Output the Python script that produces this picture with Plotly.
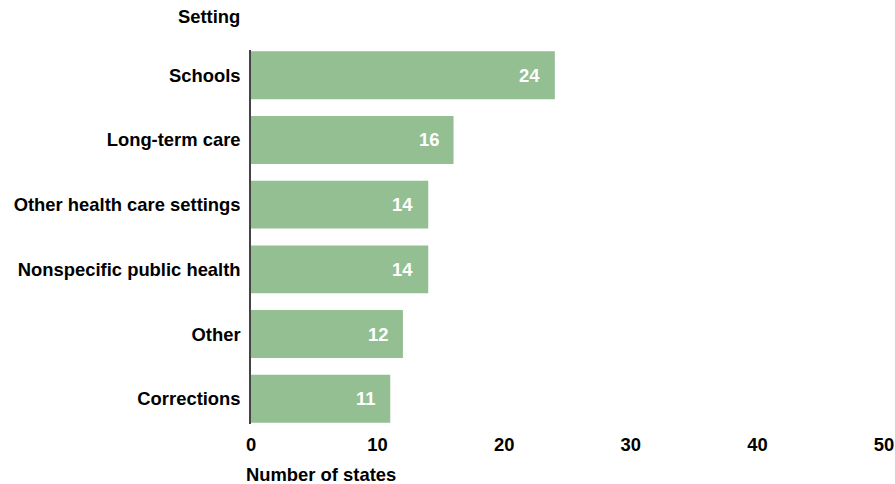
import plotly.graph_objects as go

categories = ["Corrections", "Other", "Nonspecific public health", "Other health care settings", "Long-term care", "Schools"]
values = [11, 12, 14, 14, 16, 24]
x_ticks = [0, 10, 20, 30, 40, 50]

BAR = "#93bf93"
FONT = "Liberation Sans, Arial, sans-serif"
FS = 18.4

fig = go.Figure(go.Bar(
    x=values, y=categories, orientation="h",
    marker=dict(color=BAR, line=dict(width=0)),
    width=0.74, hoverinfo="skip",
))

for v, c in zip(values, categories):
    fig.add_annotation(x=v, y=c, text=f"<b>{v}</b>", showarrow=False,
                       xanchor="right", xshift=-13,
                       font=dict(family=FONT, size=FS, color="white"))

fig.add_annotation(xref="paper", yref="paper", x=-0.014, y=1.0, yshift=34,
                   text="<b>Setting</b>", showarrow=False, xanchor="right", yanchor="middle",
                   font=dict(family=FONT, size=FS, color="black"))
fig.add_annotation(xref="paper", yref="paper", x=-0.011, y=0, yshift=-50,
                   text="<b>Number of states</b>", showarrow=False, xanchor="left", yanchor="middle",
                   font=dict(family=FONT, size=FS, color="black"))

fig.update_layout(
    width=895, height=484,
    margin=dict(l=251, r=11, t=50, b=60),
    plot_bgcolor="white", paper_bgcolor="white",
    showlegend=False,
    font=dict(family=FONT, size=FS, color="black"),
    xaxis=dict(range=[0, 50], tickvals=x_ticks, ticktext=[f"<b>{t}</b>" for t in x_ticks],
               showgrid=False, zeroline=False, showline=False, ticks="", automargin=False,
               ticklabelstandoff=8,
               tickfont=dict(family=FONT, size=FS, color="black")),
    yaxis=dict(categoryorder="array", categoryarray=categories, range=[-0.39, 5.39],
               ticktext=[f"<b>{c}</b>" for c in categories], tickvals=categories,
               showgrid=False, zeroline=False, showline=True, linecolor="#444", linewidth=1.5,
               ticks="", ticklabelstandoff=5, automargin=False,
               tickfont=dict(family=FONT, size=FS, color="black")),
)

fig.write_html("out.html", config={"displayModeBar": False},
               post_script="document.body.style.margin='0';document.body.style.overflow='hidden';")
